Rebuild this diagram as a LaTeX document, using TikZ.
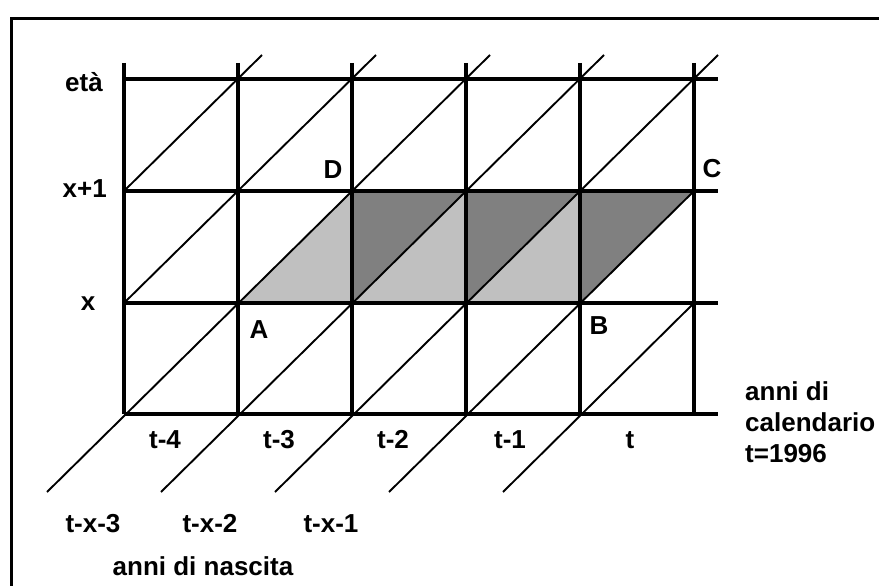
\documentclass[tikz,border=0pt]{standalone}
\usepackage{fontspec}
\setmainfont{Liberation Sans}
\begin{document}
\begin{tikzpicture}[x=1pt,y=-1pt,
  gridline/.style={line width=3.2pt},
  diagline/.style={line width=1.9pt},
  framel/.style={line width=3pt},
  lab/.style={font=\fontsize{26}{30}\selectfont\bfseries, inner sep=0pt},
  lightfill/.style={fill=lightshade},
  darkfill/.style={fill=darkshade}]
\definecolor{lightshade}{RGB}{192,192,192}
\definecolor{darkshade}{RGB}{128,128,128}
\useasboundingbox (0,0) rectangle (879,586);
\fill[white] (0,0) rectangle (879,586);
% frame
\draw[framel] (11,590) -- (11,19) -- (885,19);
% grid corners
\coordinate (A) at (238,303);
\coordinate (B) at (580,303);
\coordinate (C) at (694,191);
\coordinate (D) at (352,191);
% shading
\fill[lightfill] (A) -- (B) -- (C) -- (D) -- cycle;
\fill[darkfill] (352,303) -- (352,191) -- (466,191) -- cycle;
\fill[darkfill] (466,303) -- (466,191) -- (580,191) -- cycle;
\fill[darkfill] (580,303) -- (580,191) -- (694,191) -- cycle;
% diagonals
\draw[diagline] (47,492) -- (490,55);
\draw[diagline] (161,492) -- (604,55);
\draw[diagline] (275,492) -- (718,55);
\draw[diagline] (389,492) -- (C);
\draw[diagline] (503,492) -- (694,303);
\draw[diagline] (124,303) -- (376,55);
\draw[diagline] (124,191) -- (262,55);
% grid
\foreach \y in {79,191,303,414} \draw[gridline] (124,\y) -- (718,\y);
\foreach \x in {124,238,352,466,580,694} \draw[gridline] (\x,63) -- (\x,414);
% labels
\node[lab,anchor=base east] (eta) at (103,92) {età};
\node[lab,anchor=base east] (x1) at (107,197) {x+1};
\node[lab,anchor=base] (x0) at (88,310) {x};
\node[lab,anchor=base] (la) at (259,338) {A};
\node[lab,anchor=base] (lb) at (599,334) {B};
\node[lab,anchor=base] (lc) at (712,177) {C};
\node[lab,anchor=base] (ld) at (333,178) {D};
\node[lab,anchor=base] (t4) at (165,448) {t-4};
\node[lab,anchor=base] (t3) at (279,448) {t-3};
\node[lab,anchor=base] (t2) at (393,448) {t-2};
\node[lab,anchor=base] (t1) at (510,448) {t-1};
\node[lab,anchor=base] (t0) at (630,448) {t};
\node[lab,anchor=base] (tx3) at (93,532) {t-x-3};
\node[lab,anchor=base] (tx2) at (210,532) {t-x-2};
\node[lab,anchor=base] (tx1) at (331,532) {t-x-1};
\node[lab,anchor=base] (nasc) at (203,575) {anni di nascita};
\node[lab,anchor=base west] (cal1) at (745,400) {anni di};
\node[lab,anchor=base west] (cal2) at (745,431) {calendario};
\node[lab,anchor=base west] (cal3) at (745,462) {t=1996};
\end{tikzpicture}
\end{document}
